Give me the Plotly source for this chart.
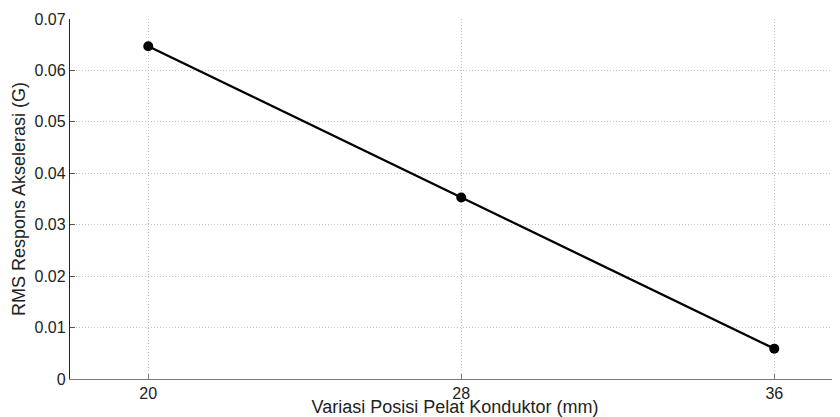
import plotly.graph_objects as go

posisi = [20, 28, 36]
rms = [0.0647, 0.0353, 0.0059]
x_ticks = [20, 28, 36]
x_title = "Variasi Posisi Pelat Konduktor (mm)"
y_title = "RMS Respons Akselerasi (G)"

fig = go.Figure()
fig.add_trace(go.Scatter(
    x=posisi, y=rms, mode="lines+markers",
    line=dict(color="black", width=2.3),
    marker=dict(color="black", size=10),
    showlegend=False,
))

tick_font = dict(family="Liberation Sans, Arial, sans-serif", size=16, color="#222")
title_font = dict(family="Liberation Sans, Arial, sans-serif", size=18, color="#222")
# The page body adds an 8px offset; figure is sized to fill the visible window.
fig.update_layout(
    width=832, height=409,
    margin=dict(l=62, r=0, t=11, b=38),
    paper_bgcolor="white", plot_bgcolor="white",
    font=tick_font,
)
fig.update_xaxes(
    range=[18, 37.68], tickmode="array", tickvals=x_ticks,
    ticktext=[str(v) for v in x_ticks],
    showgrid=True, gridcolor="#c4c4c4", griddash="1px,2px", gridwidth=1,
    showline=True, linecolor="#777777", linewidth=1.3,
    ticks="inside", ticklen=5, tickcolor="#777777",
    zeroline=False, automargin=False, tickfont=tick_font,
    title=dict(text=x_title, standoff=0, font=title_font),
)
fig.update_yaxes(
    range=[0, 0.07], dtick=0.01, tick0=0,
    showgrid=True, gridcolor="#c4c4c4", griddash="1px,2px", gridwidth=1,
    showline=True, linecolor="#222222", linewidth=1.3,
    ticks="inside", ticklen=5, tickcolor="#555555",
    zeroline=False, automargin=False, tickfont=tick_font,
    title=dict(text=y_title, standoff=4, font=title_font),
)
fig.write_html("out.html")
